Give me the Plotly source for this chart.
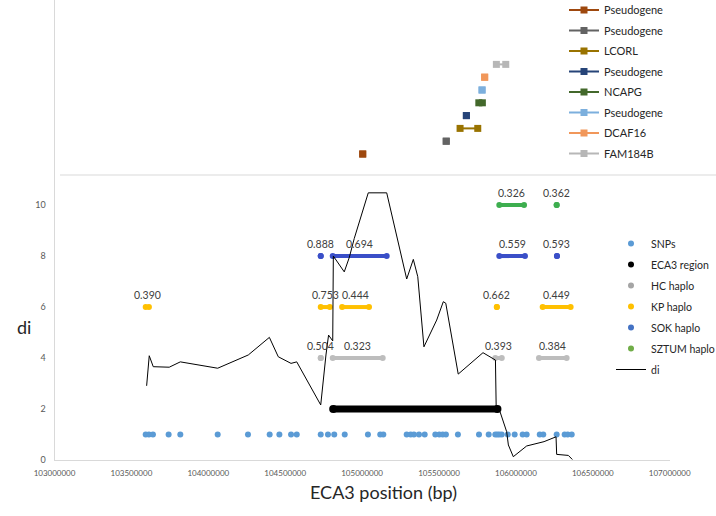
"""
ECA3 領域のハプロタイプと di プロット
"""
import plotly.graph_objects as go

# ---- データ ----
snp_pos = [
    103593000, 103614000, 103640000, 103742000, 103818000, 104061000, 104258000,
    104399000, 104462000, 104538000, 104575000, 104731000, 104778000, 104819000,
    104887000, 105038000, 105118000, 105138000, 105290000, 105316000, 105337000,
    105370000, 105407000, 105476000, 105502000, 105524000, 105545000, 105623000,
    105760000, 105823000, 105866000, 105879000, 105892000, 105908000, 105947000,
    105992000, 106044000, 106070000, 106155000, 106178000, 106265000, 106317000,
    106337000, 106363000,
]
snp_val = [1] * len(snp_pos)

eca3_start = [104812000]
eca3_end = [105880000]
eca3_val = 2

di_pos = [
    103599000, 103616000, 103642000, 103746000, 103818000, 104061000, 104260000,
    104397000, 104455000, 104538000, 104575000, 104731000, 104765000, 104782000,
    104809000, 104813000, 104884000, 104917000, 104949000, 105040000, 105160000,
    105290000, 105333000, 105362000, 105402000, 105485000, 105528000, 105544000,
    105625000, 105786000, 105867000, 105872000, 105897000, 105929000, 105940000,
    105951000, 105983000, 106070000, 106183000, 106261000, 106265000, 106341000,
    106367000,
]
di_val = [
    2.91, 4.09, 3.66, 3.64, 3.85, 3.60, 4.12, 4.81, 4.05, 3.79, 3.85, 2.16, 4.12,
    4.90, 4.67, 8.00, 7.38, 7.95, 8.69, 10.48, 10.48, 7.10, 7.87, 7.19, 4.44,
    5.49, 6.21, 6.15, 3.37, 4.21, 3.92, 2.00, 1.89, 1.31, 1.11, 0.59, 0.13, 0.55,
    0.72, 0.91, 0.22, 0.18, 0.02,
]

hc_start = [104731000, 104809000, 105866000, 106150000]
hc_end = [104731000, 105134000, 105908000, 106330000]
hc_label = ["0.504", "0.323", "0.393", "0.384"]
hc_val = 4

kp_start = [103593000, 104731000, 104870000, 105876000, 106174000]
kp_end = [103614000, 104790000, 105045000, 105876000, 106356000]
kp_label = ["0.390", "0.753", "0.444", "0.662", "0.449"]
kp_val = 6

sok_start = [104731000, 104809000, 105892000, 106267000]
sok_end = [104731000, 105160000, 106059000, 106267000]
sok_label = ["0.888", "0.694", "0.559", "0.593"]
sok_val = 8

sztum_start = [105892000, 106265000]
sztum_end = [106053000, 106265000]
sztum_label = ["0.326", "0.362"]
sztum_val = 10

gene_names = ["Pseudogene", "Pseudogene", "LCORL", "Pseudogene", "NCAPG",
              "Pseudogene", "DCAF16", "FAM184B"]
gene_start = [105004000, 105547000, 105637000, 105678000, 105759000,
              105780000, 105797000, 105873000]
gene_end = [105004000, 105547000, 105752000, 105678000, 105782000,
            105780000, 105797000, 105934000]
gene_row = [1, 2, 3, 4, 5, 6, 7, 8]

x_ticks = list(range(103000000, 107000001, 500000))
y_ticks = [0, 2, 4, 6, 8, 10]

# ---- スタイル ----
W, H = 716, 516
FONT = "Lato, 'Liberation Sans', Arial, sans-serif"
GENE_COLORS = ["#9E480E", "#636363", "#997300", "#264478", "#43682B",
               "#7CAFDD", "#F1975A", "#B7B7B7"]
AXIS_GRAY = "#D9D9D9"
TEXT_GRAY = "#595959"


def px_x(p):
    return p / W


def px_y(p):
    return (H - p) / H


def segments(starts, ends):
    """区間リストを None 区切りの座標に変換"""
    xs = []
    for s, e in zip(starts, ends):
        xs += [s, e, None]
    return xs


fig = go.Figure()


def add_haplo(name, starts, ends, labels, val, line_color, dot_color):
    xs = segments(starts, ends)
    fig.add_trace(go.Scatter(
        x=xs, y=[val if v is not None else None for v in xs],
        mode="lines", line=dict(color=line_color, width=4),
        showlegend=False, hoverinfo="skip"))
    fig.add_trace(go.Scatter(
        x=starts + ends, y=[val] * (len(starts) * 2),
        mode="markers", marker=dict(color=line_color, size=6),
        name=name, showlegend=False))
    # 凡例用
    fig.add_trace(go.Scatter(
        x=[None], y=[None], mode="markers",
        marker=dict(color=dot_color, size=6), name=name,
        legend="legend", legendgroup=name))
    for s, e, lab in zip(starts, ends, labels):
        fig.add_annotation(x=(s + e) / 2, y=val, text=lab, showarrow=False,
                           yshift=12, font=dict(size=10.5, color="#404040"))


# SNPs
fig.add_trace(go.Scatter(
    x=snp_pos, y=snp_val, mode="markers", name="SNPs",
    marker=dict(color="#5B9BD5", size=6), legend="legend", legendgroup="SNPs"))

# ECA3 region
xs = segments(eca3_start, eca3_end)
fig.add_trace(go.Scatter(
    x=xs, y=[eca3_val if v is not None else None for v in xs],
    mode="lines+markers", line=dict(color="black", width=7),
    marker=dict(color="black", size=8), showlegend=False))
fig.add_trace(go.Scatter(
    x=[None], y=[None], mode="markers", marker=dict(color="black", size=6),
    name="ECA3 region", legend="legend", legendgroup="ECA3 region"))

add_haplo("HC haplo", hc_start, hc_end, hc_label, hc_val, "#BDBDBD", "#A5A5A5")
add_haplo("KP haplo", kp_start, kp_end, kp_label, kp_val, "#FFC000", "#FFC000")
add_haplo("SOK haplo", sok_start, sok_end, sok_label, sok_val, "#3A4FC8", "#4472C4")
add_haplo("SZTUM haplo", sztum_start, sztum_end, sztum_label, sztum_val,
          "#3DAE4F", "#70AD47")

# di
fig.add_trace(go.Scatter(
    x=di_pos, y=di_val, mode="lines", name="di",
    line=dict(color="black", width=1), legend="legend", legendgroup="di"))

# 遺伝子パネル
for i, (name, s, e, r, c) in enumerate(
        zip(gene_names, gene_start, gene_end, gene_row, GENE_COLORS)):
    fig.add_trace(go.Scatter(
        x=[s, e], y=[r, r], xaxis="x2", yaxis="y2",
        mode="lines+markers", name=name,
        line=dict(color=c, width=2),
        marker=dict(color=c, size=7, symbol="square"),
        legend="legend2", legendgroup=f"gene{i}"))

x_dom = [px_x(54.5), px_x(669.7)]
fig.update_layout(
    width=W, height=H,
    margin=dict(l=0, r=0, t=0, b=0, autoexpand=False),
    paper_bgcolor="white", plot_bgcolor="rgba(0,0,0,0)",
    font=dict(family=FONT, color=TEXT_GRAY),
    xaxis=dict(domain=x_dom, range=[103000000, 107000000],
               tickvals=x_ticks, tickformat="d", automargin=False,
               showline=True, linecolor=AXIS_GRAY, showgrid=False,
               zeroline=False, ticklabelstandoff=5,
               tickfont=dict(size=8, color=TEXT_GRAY)),
    yaxis=dict(domain=[px_y(460), px_y(175)], range=[0, 11.18],
               tickvals=y_ticks, showline=True, linecolor=AXIS_GRAY,
               showgrid=False, zeroline=False, automargin=False,
               ticklabelstandoff=6,
               tickfont=dict(size=9, color=TEXT_GRAY)),
    xaxis2=dict(domain=x_dom, matches="x", anchor="y2", visible=False),
    yaxis2=dict(domain=[px_y(175), 1], range=[-0.64, 13.03], anchor="x2",
                visible=False),
    legend=dict(x=px_x(611), y=px_y(229), xanchor="left", yanchor="top",
                font=dict(size=10.5, color="#262626"), bgcolor="rgba(0,0,0,0)",
                tracegroupgap=2),
    legend2=dict(x=px_x(564), y=px_y(-4.5), xanchor="left", yanchor="top",
                 font=dict(size=11, color="#262626"), bgcolor="rgba(0,0,0,0)",
                 tracegroupgap=1.5, itemwidth=30),
    showlegend=True,
)

# 上下パネルの境界線と上パネルの縦軸線
fig.add_shape(type="line", xref="paper", yref="paper",
              x0=px_x(60), x1=1, y0=px_y(175), y1=px_y(175),
              line=dict(color=AXIS_GRAY, width=1))
fig.add_shape(type="line", xref="paper", yref="paper",
              x0=px_x(54.5), x1=px_x(54.5), y0=px_y(175), y1=1,
              line=dict(color=AXIS_GRAY, width=1))

# 軸タイトル
fig.add_annotation(xref="paper", yref="paper", x=px_x(383), y=px_y(505),
                   text="ECA3 position (bp)", showarrow=False,
                   font=dict(size=18, color="#262626"))
fig.add_annotation(xref="paper", yref="paper", x=px_x(15), y=px_y(327),
                   text="di", showarrow=False,
                   font=dict(size=18, color="#262626"))

# ページ余白をなくして 716x516 にぴったり収める
fig.write_html("out.html", config={"displayModeBar": False},
               post_script="document.body.style.margin='0';")
